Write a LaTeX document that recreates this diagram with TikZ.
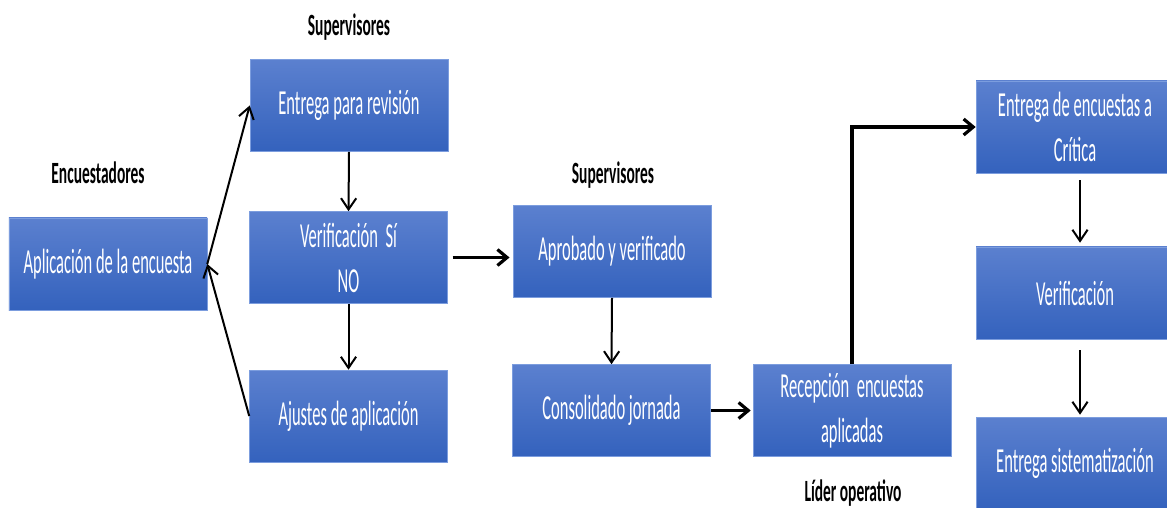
\documentclass[tikz,border=0pt]{standalone}
\usepackage{fontspec}
\usetikzlibrary{arrows.meta}
\newfontfamily\boxfont{Carlito}[FakeStretch=0.47]
\newfontfamily\rolfont{Carlito}[FakeStretch=0.5]
\definecolor{boxtop}{HTML}{5B80CF}
\definecolor{boxbot}{HTML}{3462BD}
\definecolor{boxline}{HTML}{7C9DDE}
\begin{document}
\begin{tikzpicture}[x=0.25mm,y=-0.25mm,
	paso/.style={rectangle,top color=boxtop,bottom color=boxbot,draw=boxline,line width=0.4pt,
		minimum width=49.5mm,minimum height=23mm,inner sep=0pt,align=center,text=white,
		font=\boxfont\fontsize{25pt}{32pt}\selectfont},
	rol/.style={font=\rolfont\bfseries\fontsize{22pt}{26pt}\selectfont},
	flecha/.style={line width=0.5mm,-{Straight Barb[length=2.8mm,width=3.8mm]}},
	flechag/.style={line width=0.8mm,-{Straight Barb[length=2.4mm,width=4mm]}}]
	\useasboundingbox (0,0) rectangle (1167,508);
	%roles----------------------------
	\node[rol] (rolsup) at (349,27) {Supervisores};
	\node[rol] (rolenc) at (98,173) {Encuestadores};
	\node[rol] (rolsup2) at (613,175) {Supervisores};
	\node[rol] (rollid) at (853,493) {Líder operativo};
	%boxes----------------------------
	\node[paso] (aplic) at (108,264) {Aplicación de la encuesta};
	\node[paso] (entrega) at (349,105.5) {Entrega para revisión};
	\node[paso] (verif) at (348.5,257.5) {Verificación\ \ Sí\\NO};
	\node[paso] (ajustes) at (348.5,416) {Ajustes de aplicación};
	\node[paso] (aprob) at (612,251.5) {Aprobado y verificado};
	\node[paso] (consol) at (611.5,410.5) {Consolidado jornada};
	\node[paso] (recep) at (852,410.5) {Recepción\ \ encuestas\\aplicadas};
	\node[paso] (critica) at (1075,127) {Entrega de encuestas a\\Crítica};
	\node[paso] (verif2) at (1075,293) {Verificación};
	\node[paso] (sistem) at (1075,463) {Entrega sistematización};
	%arrows---------------------------
	\draw[flecha] (aplic.east) -- (entrega.west); %to review
	\draw[flecha] (ajustes.west) -- (aplic.east); %back to survey
	\draw[flecha] (entrega.south) -- (verif.north);
	\draw[flecha] (verif.south) -- (ajustes.north);
	\draw[flechag,shorten <=1.2mm,shorten >=0.8mm] (verif.east) -- (verif.east -| aprob.west); %approved
	\draw[flecha] (aprob.south) -- (consol.north);
	\draw[flechag,shorten >=0.5mm] (consol.east) -- (consol.east -| recep.west);
	\draw[flechag] (recep.north) |- (critica.west); %to critique
	\draw[flecha,shorten <=1.8mm,shorten >=1mm] ([xshift=1.25mm]critica.south) -- ([xshift=1.25mm]verif2.north);
	\draw[flecha,shorten <=2.8mm,shorten >=0.5mm] ([xshift=1.25mm]verif2.south) -- ([xshift=1.25mm]sistem.north);
\end{tikzpicture}
\end{document}
